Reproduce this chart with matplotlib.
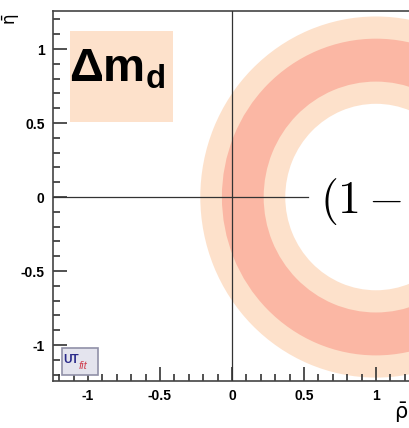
import matplotlib
matplotlib.use("Agg")
import matplotlib.pyplot as plt
from matplotlib.patches import Annulus, Rectangle

# -----------------
# Datos
# -----------------
centro = (1.0, 0.0)            # centro del anillo Delta m_d
r_95 = (0.63, 1.22)            # banda 95%
r_68 = (0.78, 1.07)            # banda 68%
caja_dm = (-1.125, 0.507, 0.715, 0.613)   # x, y, ancho, alto
xticks = [-1, -0.5, 0, 0.5, 1]
yticks = [-1, -0.5, 0, 0.5, 1]
xlim = (-1.243, 2.0)
ylim = (-1.243, 1.257)

col_claro = "#fde1cb"
col_oscuro = "#fbb7a4"

plt.rcParams["mathtext.fontset"] = "custom"
plt.rcParams["mathtext.bf"] = "Liberation Sans:bold"
plt.rcParams["mathtext.rm"] = "Liberation Sans"
plt.rcParams["mathtext.it"] = "Liberation Sans:italic"

fig = plt.figure(figsize=(4.10, 4.28), dpi=100)
ancho = (xlim[1] - xlim[0]) * 144 / 410
ax = fig.add_axes([53 / 410, 47 / 428, ancho, 370 / 428])
ax.set_xlim(*xlim)
ax.set_ylim(*ylim)

# anillos
ax.add_patch(Annulus(centro, r_95[1], r_95[1] - r_95[0], color=col_claro, lw=0, zorder=1))
ax.add_patch(Annulus(centro, r_68[1], r_68[1] - r_68[0], color=col_oscuro, lw=0, zorder=2))

# ejes en cero
ax.axvline(0, color="#333333", lw=0.9, zorder=3)
ax.plot([xlim[0], 0.53], [0, 0], color="#333333", lw=0.9, zorder=3)

# caja Delta m_d
ax.add_patch(Rectangle(caja_dm[:2], caja_dm[2], caja_dm[3], color=col_claro, lw=0, zorder=2))
ax.text(-1.13, 0.78, r"$\mathbf{\Delta m_d}$", fontsize=34, color="black",
        ha="left", va="baseline", zorder=4)

# formula (cortada en el borde, como en el original)
ax.text(0.61, -0.115, r"$(1-\bar{\rho})^2+\bar{\eta}^2$", fontsize=33,
        math_fontfamily="cm", ha="left", va="baseline", zorder=5,
        bbox=dict(facecolor="white", edgecolor="none", pad=2))

# logo UTfit
ax.add_patch(Rectangle((-1.18, -1.20), 0.25, 0.18, facecolor="#e4e4ee",
                       edgecolor="#9090a8", lw=1.2, zorder=4))
ax.text(-1.17, -1.10, "UT", color="#2a2a8a", fontsize=8.5, fontweight="bold",
        family="Liberation Sans", va="center", zorder=5)
ax.text(-1.065, -1.14, "fit", color="#d04050", fontsize=8, style="italic",
        family="Liberation Sans", va="center", zorder=5)

# ticks
ax.set_xticks(xticks)
ax.set_yticks(yticks)
ax.set_xticklabels(["-1", "-0.5", "0", "0.5", "1"])
ax.set_yticklabels(["-1", "-0.5", "0", "0.5", "1"])
ax.xaxis.set_minor_locator(matplotlib.ticker.MultipleLocator(0.1))
ax.yaxis.set_minor_locator(matplotlib.ticker.MultipleLocator(0.1))
ax.tick_params(which="both", direction="in", top=False, right=False, color="#333333",
               width=1.2)
ax.tick_params(which="major", length=10, pad=6)
ax.tick_params(which="minor", length=5)
for lab in ax.get_xticklabels() + ax.get_yticklabels():
    lab.set_family("Liberation Sans")
    lab.set_fontweight("bold")
    lab.set_fontsize(10)
for s in ax.spines.values():
    s.set_color("#444444")
    s.set_linewidth(1.2)

fig.text(11 / 410, 1 - 19 / 428, r"$\bar{\mathrm{\eta}}$", fontsize=12, rotation=90,
         ha="center", va="center", math_fontfamily="dejavusans")
fig.text(401 / 410, 1 - 413 / 428, r"$\bar{\mathrm{\rho}}$", fontsize=15,
         ha="center", va="center", math_fontfamily="dejavusans")

fig.savefig("out.png", dpi=100)
